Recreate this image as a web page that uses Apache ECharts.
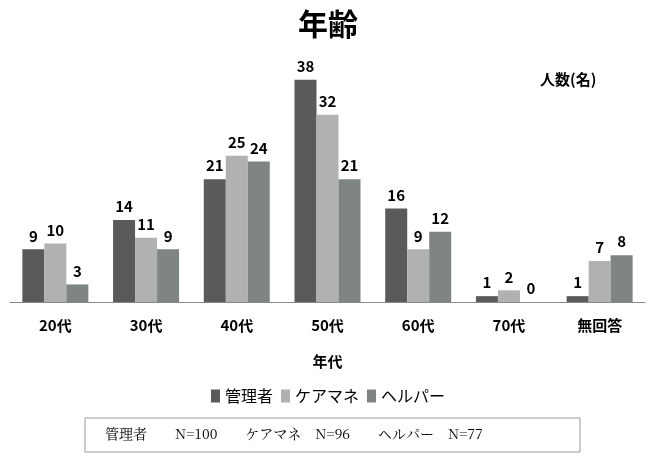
<!DOCTYPE html>
<html><head><meta charset="utf-8">
<script src="https://cdn.jsdelivr.net/npm/echarts@6/dist/echarts.min.js"></script>
<style>body{margin:0}#c{width:656px;height:461px}</style>
</head><body><div id="c"></div>
<script>
var categories = ['20代','30代','40代','50代','60代','70代','無回答'];
var kanri = [9,14,21,38,16,1,1];
var caremane = [10,11,25,32,9,2,7];
var helper = [3,9,24,21,12,0,8];
var names = ['管理者','ケアマネ','ヘルパー'];
var colors = ['#5a5a5a','#b0b2b0','#7f8580'];
var font = '"Noto Sans CJK JP", sans-serif';

var chart = echarts.init(document.getElementById('c'));
function mk(i, data){
    return {
        name:names[i], type:'bar', data:data, barWidth:22, barGap:'0%',
        itemStyle:{color:colors[i]},
        label:{show:true,position:'top',distance:6,color:'#000',fontSize:15,fontWeight:'bold',fontFamily:font}
    };
}
chart.setOption({
    animation:false,
    title:{text:'年齢',left:'center',top:4,textStyle:{fontSize:30,fontWeight:'bold',color:'#000',fontFamily:font}},
    grid:{left:10,right:11,top:68,bottom:159},
    legend:{data:names,top:383,left:'center',itemWidth:9,itemHeight:13,itemGap:8,icon:'rect',
        textStyle:{fontSize:16,color:'#000',fontFamily:font}},
    xAxis:{type:'category',data:categories,
        axisLine:{lineStyle:{color:'#888'}},axisTick:{show:false},
        axisLabel:{margin:16,fontSize:15,fontWeight:'bold',color:'#000',fontFamily:font},
        name:'年代',nameLocation:'middle',nameGap:52,
        nameTextStyle:{fontSize:15,fontWeight:'bold',color:'#000',fontFamily:font}},
    yAxis:{type:'value',min:0,max:40,show:false},
    graphic:[
        {type:'text',left:540,top:72,style:{text:'人数(名)',fontSize:15,fontWeight:'bold',fill:'#000',fontFamily:font}},
        {type:'rect',shape:{x:85,y:418,width:495,height:34},style:{fill:'#fff',stroke:'#999',lineWidth:1}},
        {type:'text',left:105,top:427,style:{text:'管理者　　N=100　　ケアマネ　N=96　　ヘルパー　N=77',fontSize:14,fill:'#000',fontFamily:'"Noto Serif CJK JP","Liberation Serif",serif'}}
    ],
    series:[mk(0,kanri),mk(1,caremane),mk(2,helper)]
});
</script></body></html>
